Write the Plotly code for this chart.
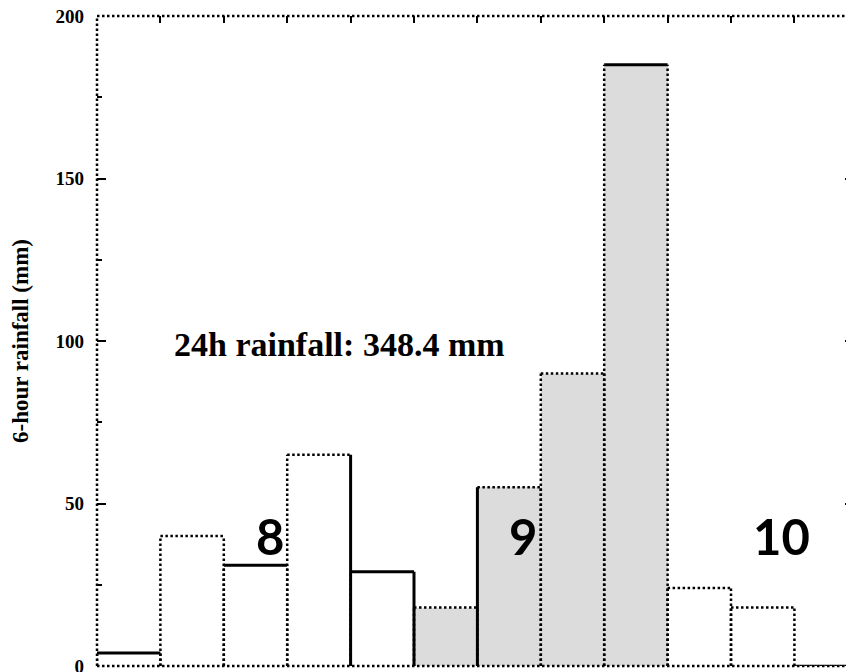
import plotly.graph_objects as go

# 6-hour rainfall totals (mm), one bin per 6 hours
bins = list(range(12))
rain = [4, 40, 31, 65, 29, 18, 55, 90, 185, 24, 18, 0]
shaded = [False, False, False, False, False, True, True, True, True, False, False, False]

day_labels = ["8", "9", "10"]
day_x = [2.73, 6.72, 10.8]
day_y = [40, 40, 40]

note_text = "24h rainfall: 348.4 mm"
note_x = 3.83
note_y = 99

yticks = [0, 50, 100, 150, 200]

# which outline edges are drawn solid (the rest are dotted)
solid_tops = {0, 2, 4, 8}
solid_rights = {3, 4}
solid_lefts = {6}

fig = go.Figure()

fig.add_trace(go.Bar(
    x=[b + 0.5 for b in bins], y=rain, width=1,
    marker=dict(color=["#dcdcdc" if s else "white" for s in shaded], line=dict(width=0)),
    showlegend=False, hoverinfo="skip"))

# outline segments built from the bin edges and values
sol_x, sol_y, dot_x, dot_y = [], [], [], []
for i, v in zip(bins, rain):
    segs = [
        ((i, i), (0, v), i in solid_lefts),
        ((i, i + 1), (v, v), i in solid_tops),
        ((i + 1, i + 1), (0, v), i in solid_rights),
    ]
    for xs, ys, solid in segs:
        if solid:
            sol_x += [xs[0], xs[1], None]
            sol_y += [ys[0], ys[1], None]
        else:
            dot_x += [xs[0], xs[1], None]
            dot_y += [ys[0], ys[1], None]

fig.add_trace(go.Scatter(x=dot_x, y=dot_y, mode="lines",
                         line=dict(color="black", width=2.5, dash="2.5px,2.5px"),
                         showlegend=False, hoverinfo="skip"))
fig.add_trace(go.Scatter(x=sol_x, y=sol_y, mode="lines",
                         line=dict(color="black", width=3),
                         showlegend=False, hoverinfo="skip"))

for t, x, y in zip(day_labels, day_x, day_y):
    fig.add_annotation(x=x, y=y, text=t, showarrow=False,
                       font=dict(family="Lato", size=49, color="black", weight="bold"))

fig.add_annotation(x=note_x, y=note_y, text=note_text, showarrow=False,
                   font=dict(family="Liberation Serif", size=34, color="black", weight="bold"))

# dotted frame
for x0, y0, x1, y1 in [(0, 0, 0, 1), (0, 1, 1, 1), (0, 0, 1, 0)]:
    fig.add_shape(type="line", xref="paper", yref="paper", x0=x0, y0=y0, x1=x1, y1=y1,
                  line=dict(color="black", width=2.5, dash="2.5px,2.5px"), layer="above")

fig.update_xaxes(range=[0, 11.94], side="top", ticks="inside", dtick=1, tick0=0,
                 ticklen=7, tickwidth=2, tickcolor="black", showticklabels=False,
                 showgrid=False, zeroline=False, showline=False, automargin=False)
fig.update_yaxes(range=[0, 200], tickvals=yticks, ticks="inside", ticklen=9, tickwidth=2,
                 tickcolor="black", mirror="ticks", ticklabeloverflow="allow", automargin=False,
                 minor=dict(dtick=25, ticks="inside", ticklen=5, tickwidth=2, tickcolor="black"),
                 showgrid=False, zeroline=False, showline=False,
                 tickfont=dict(family="Liberation Serif", size=19, color="black", weight="bold"),
                 ticklabelstandoff=12,
                 title=dict(text="6-hour rainfall (mm)", standoff=20,
                            font=dict(family="Liberation Serif", size=23, color="black", weight="bold")))

# page body adds an 8px offset, so the figure is sized to end at the window edge
fig.update_layout(width=846, height=664, margin=dict(l=89, r=0, t=8, b=6, autoexpand=False),
                  plot_bgcolor="white", paper_bgcolor="white", bargap=0)

fig.write_html("out.html")
